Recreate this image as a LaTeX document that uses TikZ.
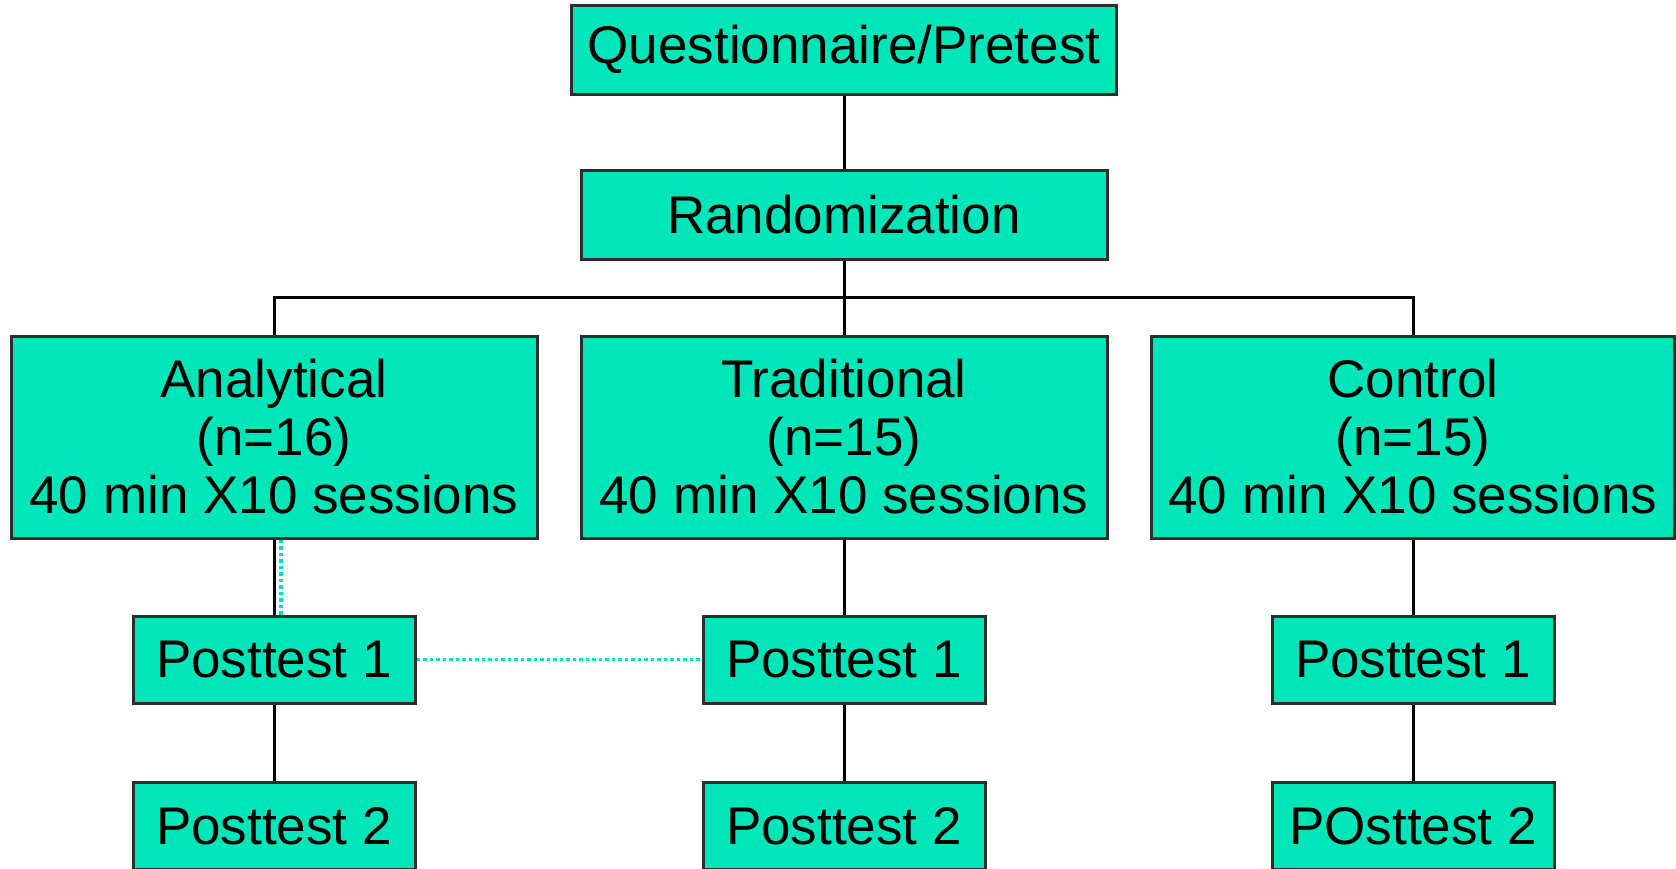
\documentclass[tikz,border=0pt]{standalone}
\usepackage{fontspec}
\setmainfont{Liberation Sans}
\definecolor{boxfill}{RGB}{0,230,185}
\definecolor{boxline}{RGB}{45,45,45}
\definecolor{dotcol}{RGB}{0,225,190}
\begin{document}
\begin{tikzpicture}[x=1pt,y=-1pt,
  box/.style={draw=boxline,fill=boxfill,line width=3pt,inner sep=0pt,align=center,
    font=\fontsize{53}{58}\selectfont},
  conn/.style={draw=black,line width=3pt},
  dotconn/.style={draw=dotcol,line width=3.5pt,dash pattern=on 3.5pt off 3pt}]
\useasboundingbox (0,0) rectangle (1676,868);
\node[box,minimum width=545pt,minimum height=89pt] (q) at (844,49.5) {Questionnaire/Pretest};
\node[box,minimum width=526pt,minimum height=89pt] (r) at (844,214.5) {Randomization};
\node[box,minimum width=526pt,minimum height=202pt] (an) at (274,437) {Analytical\\(n=16)\\40 min X10 sessions};
\node[box,minimum width=526pt,minimum height=202pt] (tr) at (844,437) {Traditional\\(n=15)\\40 min X10 sessions};
\node[box,minimum width=523pt,minimum height=202pt] (co) at (1413,437) {Control\\(n=15)\\40 min X10 sessions};
\node[box,minimum width=282pt,minimum height=87pt] (pa1) at (274,659.5) {Posttest 1};
\node[box,minimum width=282pt,minimum height=87pt] (pt1) at (844,659.5) {Posttest 1};
\node[box,minimum width=282pt,minimum height=87pt] (pc1) at (1413,659.5) {Posttest 1};
\node[box,minimum width=282pt,minimum height=87pt] (pa2) at (274,826) {Posttest 2};
\node[box,minimum width=282pt,minimum height=87pt] (pt2) at (844,826) {Posttest 2};
\node[box,minimum width=282pt,minimum height=87pt] (pc2) at (1413,826) {POsttest 2};
\coordinate (split) at (844,297);
\draw[conn] (q.south) -- (r.north);
\draw[conn] (r.south) -- (split);
\draw[conn] (split) -| (an.north);
\draw[conn] (split) -| (co.north);
\draw[conn] (split) -- (tr.north);
\draw[conn] (an.south) -- (pa1.north);
\draw[conn] (tr.south) -- (pt1.north);
\draw[conn] (co.south) -- (pc1.north);
\draw[conn] (pa1.south) -- (pa2.north);
\draw[conn] (pt1.south) -- (pt2.north);
\draw[conn] (pc1.south) -- (pc2.north);
\draw[dotconn] ([xshift=7pt]an.south) -- ([xshift=7pt]pa1.north);
\draw[dotconn] (pa1.east) -- (pt1.west);
\end{tikzpicture}
\end{document}
